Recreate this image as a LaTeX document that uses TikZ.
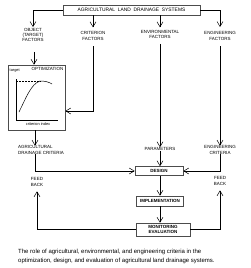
\documentclass[tikz,border=0pt]{standalone}
\usepackage{fontspec}
\setmainfont{Liberation Sans}
\usetikzlibrary{arrows.meta}
\begin{document}
\begin{tikzpicture}[x=1pt,y=-1pt,
  lbl/.style={font=\fontsize{4.5}{5.2}\selectfont, align=center, inner sep=0pt},
  boxn/.style={draw=black!70, line width=0.6pt, font=\fontsize{4.5}{5.2}\selectfont\bfseries, align=center, inner sep=0pt},
  conn/.style={line width=0.7pt, -{Straight Barb[length=5pt,width=6pt,line width=0.5pt]}},
  plain/.style={line width=0.7pt}]
\useasboundingbox (0,0) rectangle (250,268);
\fill[white] (0,0) rectangle (250,268);
% top box
\node[boxn, font=\fontsize{4.9}{5}\selectfont, minimum width=137pt, minimum height=10pt] (top) at (131.5,10) {AGRICULTURAL\ \ LAND\ \ DRAINAGE\ \ SYSTEMS};
% factor labels
\node[lbl] (obj) at (33,35) {OBJECT\\(TARGET)\\FACTORS};
\node[lbl] (crit) at (93,36) {CRITERION\\FACTORS};
\node[lbl] (env) at (160,34.5) {ENVIRONMENTAL\\FACTORS};
\node[lbl] (eng) at (220,36) {ENGINEERING\\FACTORS};
\coordinate (objtop) at (33,27);
\coordinate (engtop) at (220,27);
\draw[conn] (top.west) -| (objtop);
\draw[conn] (top.east) -| (engtop);
\draw[conn] (top.south -| crit) -- ++(0,12);
\draw[conn] (top.south -| env) -- ++(0,12);
% optimization box
\node[draw=black!70, line width=0.6pt, minimum width=57pt, minimum height=65pt, inner sep=0pt] (opt) at (36.5,97.5) {};
\node[lbl, anchor=north east] (optt) at (63.5,67.5) {OPTIMIZATION};
\node[lbl, anchor=north west, font=\fontsize{3.9}{4}\selectfont] (tgt) at (9.5,68.5) {target};
\node[lbl, font=\fontsize{3.9}{4}\selectfont] (cidx) at (38,124.5) {criterion index};
\coordinate (ax0) at (16,120);
\draw[line width=0.5pt] (16,79) -- (ax0) -- (58,120);
\draw[line width=0.4pt, dashed, dash pattern=on 1.5pt off 1.5pt] (16,81) -- (41,81);
\draw[line width=0.5pt] (19,112) .. controls (26,98) and (31,84) .. (40,81) .. controls (45,81) and (49,82) .. (52,84);
\draw[conn] (obj.south) ++(1,10) -- (opt.north -| 34,0);
\draw[conn] (crit.south) ++(0,6) |- (opt.east |- 0,111);
% agricultural criteria
\node[lbl, anchor=west, align=left] (agc) at (18,150) {AGRICULTURAL\\DRAINAGE CRITERIA};
\draw[conn] (opt.south -| 35,0) -- (agc.north -| 35,0);
% parameters & engineering criteria
\node[lbl] (par) at (160,149) {PARAMETERS};
\node[lbl] (engc) at (220,150) {ENGINEERING\\CRITERIA};
\draw[conn] (env.south) ++(0,5) -- (par.north);
\draw[conn] (eng.south) ++(0,6) -- (engc.north);
% process boxes
\node[boxn, minimum width=48pt, minimum height=9pt] (design) at (159,171) {DESIGN};
\node[boxn, minimum width=47pt, minimum height=10pt] (impl) at (160,201) {IMPLEMENTATION};
\node[boxn, minimum width=54pt, minimum height=13pt] (mon) at (163,229.5) {MONITORING\\EVALUATION};
\draw[conn] (par.south) -- (design.north -| par);
\draw[conn] (agc.south -| 35,0) |- (design.west);
\draw[conn] (engc.south) |- (design.east);
\draw[conn] (design.south -| 160,0) -- (impl.north -| 160,0);
\draw[conn] (impl.south -| 160,0) -- (mon.north -| 160,0);
% feedback
\node[lbl] (fbl) at (37,182) {FEED\\BACK};
\node[lbl] (fbr) at (220,181) {FEED\\BACK};
\draw[conn] (mon.west) -| ([yshift=-5pt]fbl.south);
\draw[conn] (mon.east) -| ([yshift=-5pt]fbr.south);
% caption
\node[anchor=north west, align=left, inner sep=0pt, font=\fontsize{6}{9}\selectfont] (cap) at (18,249) {The role of agricultural, environmental, and engineering criteria in the\\optimization, design, and evaluation of agricultural land drainage systems.};
\end{tikzpicture}
\end{document}
